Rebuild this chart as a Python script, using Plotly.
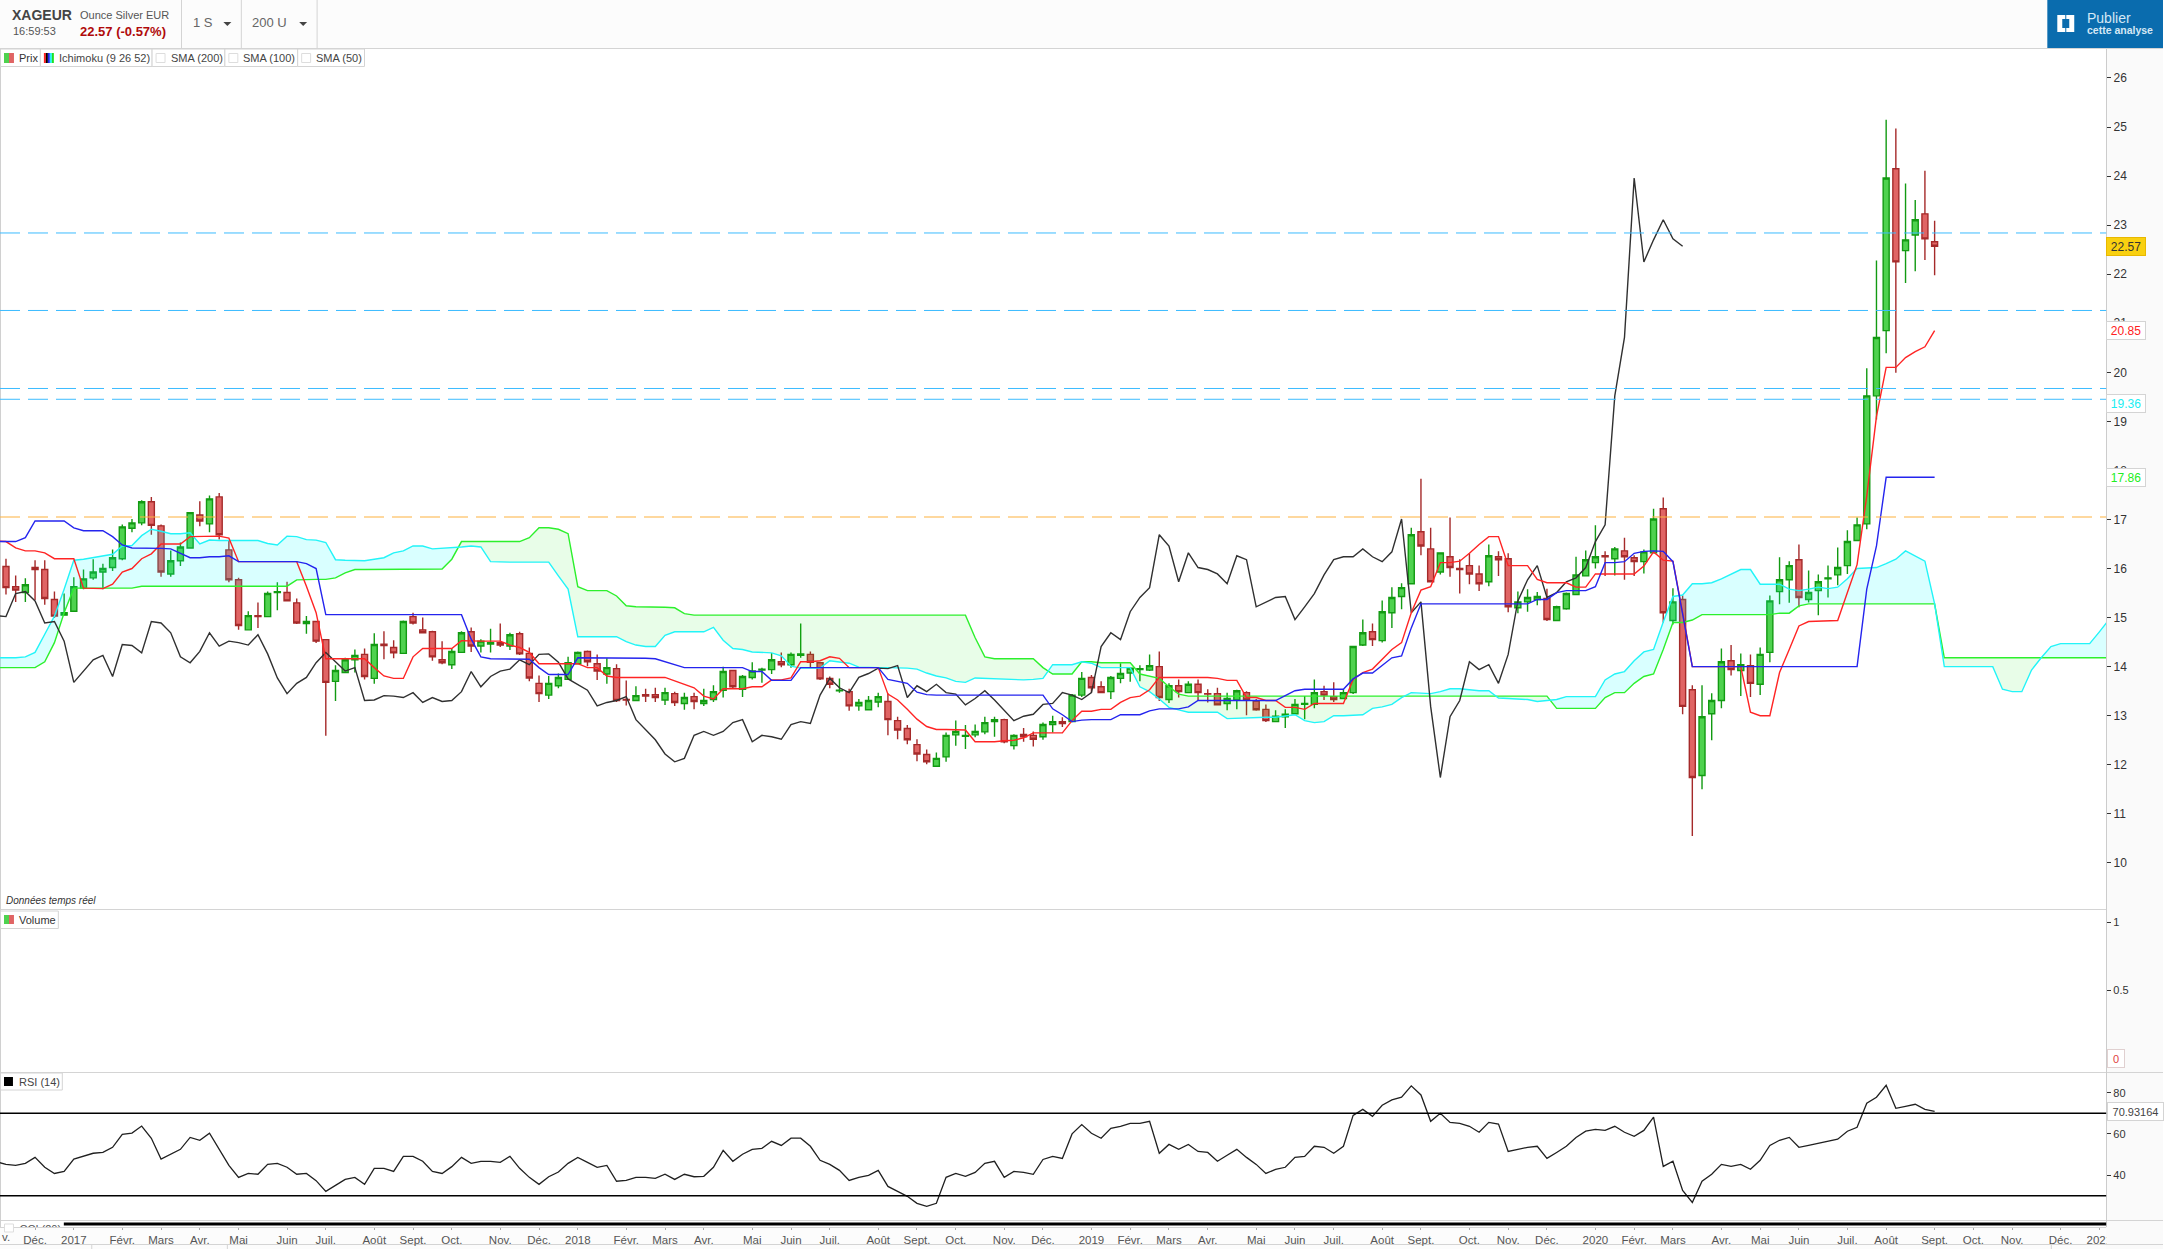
#!/usr/bin/env python3
'''
plot.py - XAGEUR weekly chart with Ichimoku cloud and RSI
'''

import plotly.graph_objects as go

WIDTH = 2169
HEIGHT = 1249

# weekly candles, one per week index 0..199
opens = [16.04,15.63,15.51,16.02,15.98,15.37,15.05,15.13,15.60,15.81,
         15.93,16.02,16.20,16.82,16.93,17.36,16.87,15.89,16.16,16.42,
         17.09,16.91,17.46,16.38,15.77,14.75,15.04,15.02,15.51,15.51,
         15.30,14.88,14.92,14.55,13.70,13.88,14.14,14.25,13.76,14.46,
         14.39,14.27,15.02,14.75,14.71,14.14,14.04,14.29,14.71,14.42,
         14.46,14.49,14.42,14.67,14.27,13.66,13.42,13.61,13.74,14.06,
         14.31,14.06,13.85,13.96,13.33,13.31,13.43,13.43,13.32,13.45,
         13.25,13.39,13.25,13.33,13.52,13.92,13.54,13.78,13.93,13.94,
         14.10,14.04,14.23,14.25,14.08,13.76,13.51,13.49,13.20,13.12,
         13.28,13.29,12.90,12.74,12.41,12.21,11.97,12.16,12.61,12.58,
         12.61,12.67,12.88,12.92,12.39,12.62,12.60,12.57,12.82,12.88,
         12.88,13.42,13.78,13.59,13.49,13.76,13.87,13.94,13.93,14.00,
         13.33,13.61,13.47,13.64,13.45,13.45,13.25,13.32,13.47,13.30,
         13.13,12.88,12.98,13.04,13.23,13.23,13.49,13.39,13.35,13.47,
         14.44,14.71,14.53,15.10,15.43,15.69,16.75,16.40,15.93,16.24,
         16.00,16.06,15.89,15.73,16.24,16.20,15.20,15.32,15.37,15.39,
         14.94,15.18,15.47,15.85,16.12,16.26,16.20,16.36,16.22,16.14,
         16.32,17.22,14.94,15.37,13.53,11.78,13.04,13.31,14.12,13.92,
         14.02,13.64,14.29,15.53,15.77,16.18,15.37,15.55,15.79,15.87,
         16.06,16.57,16.91,19.52,20.85,24.15,22.48,22.80,23.23,22.66]
highs = [16.20,15.86,15.80,16.17,16.17,15.53,15.49,15.82,15.98,16.19,
         16.10,16.39,16.90,17.01,17.39,17.46,16.90,16.37,16.53,17.14,
         17.37,17.49,17.54,16.56,15.81,15.13,15.31,15.53,15.72,15.73,
         15.39,15.03,14.92,14.55,14.03,14.18,14.35,14.37,14.68,14.72,
         14.54,14.94,15.10,15.00,14.73,14.52,14.37,14.72,14.80,14.56,
         14.77,14.88,14.69,14.71,14.39,13.82,13.81,13.86,14.20,14.31,
         14.33,14.25,14.17,14.05,13.72,13.60,13.55,13.57,13.57,13.49,
         13.47,13.47,13.55,13.62,14.00,13.92,13.83,14.09,13.98,14.28,
         14.29,14.29,14.88,14.31,14.08,13.80,13.76,13.55,13.34,13.40,
         13.47,13.46,12.98,12.81,12.52,12.31,12.25,12.66,12.90,12.81,
         12.82,12.98,12.98,12.94,12.62,12.75,12.68,12.86,13.00,12.97,
         13.44,13.89,13.83,13.70,13.81,14.07,13.99,14.03,14.25,14.31,
         13.66,13.74,13.70,13.74,13.54,13.57,13.47,13.53,13.50,13.34,
         13.23,13.11,13.13,13.34,13.40,13.74,13.61,13.68,13.54,14.41,
         14.96,14.88,15.35,15.62,15.70,16.83,17.83,16.83,16.32,17.04,
         16.19,16.31,16.06,16.49,16.35,16.31,15.53,15.58,15.52,15.59,
         15.24,15.51,16.24,16.37,16.88,16.35,16.44,16.63,16.27,16.39,
         17.22,17.45,15.60,15.45,13.62,13.62,13.46,14.37,14.44,14.27,
         14.25,14.39,15.45,16.23,16.15,16.49,15.96,15.88,16.06,16.43,
         16.78,17.04,20.08,22.28,25.15,24.97,23.85,23.51,24.11,23.09]
lows = [15.47,15.32,15.32,15.36,15.26,14.99,15.05,15.13,15.58,15.77,
        15.58,15.95,16.17,16.74,16.88,16.69,15.83,15.83,16.05,16.42,
        16.86,16.74,16.59,15.72,14.75,14.75,14.79,15.02,15.15,15.34,
        14.87,14.67,14.48,12.59,13.30,13.88,13.88,13.74,13.65,14.15,
        14.17,14.27,14.86,14.69,14.12,14.05,13.95,14.29,14.30,14.29,
        14.29,14.40,14.34,14.24,13.70,13.28,13.34,13.56,13.74,14.06,
        14.01,13.73,13.65,13.28,13.21,13.31,13.28,13.28,13.22,13.20,
        13.12,13.13,13.20,13.28,13.37,13.56,13.38,13.74,13.67,13.85,
        13.99,13.98,14.18,13.98,13.73,13.56,13.47,13.10,13.10,13.12,
        13.17,12.60,12.52,12.42,12.07,12.01,11.97,12.06,12.39,12.32,
        12.56,12.62,12.57,12.44,12.31,12.47,12.37,12.51,12.66,12.77,
        12.88,13.38,13.47,13.47,13.34,13.66,13.69,13.70,13.91,13.30,
        13.26,13.37,13.47,13.31,13.27,13.22,13.11,13.13,13.01,13.10,
        12.87,12.88,12.75,13.04,12.93,13.15,13.32,13.28,13.34,13.44,
        14.42,14.42,14.49,14.79,15.17,15.69,16.27,15.73,15.88,15.83,
        15.49,15.68,15.54,15.64,15.85,15.11,15.09,15.12,15.25,14.93,
        14.94,15.16,15.47,15.84,16.00,15.85,15.86,15.77,15.85,15.90,
        16.32,14.90,14.86,13.03,10.55,11.50,12.50,13.15,13.82,13.40,
        13.38,13.42,14.09,15.27,15.30,15.21,15.31,15.05,15.41,15.66,
        15.89,16.57,16.80,19.04,20.39,19.99,21.82,22.06,22.29,21.98]
closes = [15.61,15.56,15.67,15.98,15.39,15.03,15.10,15.63,15.79,15.93,
          16.00,16.22,16.85,16.93,17.36,16.88,15.93,16.16,16.44,17.14,
          16.97,17.42,16.69,15.77,14.84,15.04,15.02,15.49,15.53,15.34,
          14.89,14.92,14.52,13.68,13.92,14.14,14.23,13.80,14.45,14.43,
          14.28,14.92,14.89,14.69,14.20,14.08,14.31,14.69,14.42,14.52,
          14.49,14.44,14.65,14.26,13.77,13.45,13.66,13.78,14.08,14.29,
          14.10,13.91,13.98,13.31,13.32,13.41,13.40,13.37,13.47,13.27,
          13.37,13.29,13.31,13.49,13.90,13.59,13.80,13.91,13.95,14.14,
          14.04,14.25,14.26,14.09,13.75,13.64,13.52,13.20,13.27,13.31,
          13.39,12.92,12.71,12.51,12.22,12.06,12.13,12.60,12.68,12.60,
          12.68,12.86,12.92,12.47,12.60,12.57,12.52,12.82,12.88,12.84,
          13.42,13.76,13.57,13.47,13.78,13.86,13.97,13.96,14.02,13.37,
          13.61,13.49,13.64,13.47,13.44,13.22,13.35,13.51,13.32,13.12,
          12.90,12.99,13.03,13.23,13.25,13.47,13.42,13.33,13.47,14.41,
          14.69,14.55,15.12,15.41,15.61,16.69,16.46,15.73,16.32,16.02,
          15.98,15.89,15.69,16.26,16.18,15.22,15.32,15.41,15.43,14.96,
          15.22,15.49,15.87,16.18,16.24,16.24,16.40,16.24,16.14,16.34,
          17.01,15.10,15.32,13.19,11.74,12.98,13.31,14.10,13.94,14.04,
          13.66,14.25,15.34,15.77,16.06,15.41,15.51,15.73,15.81,16.02,
          16.55,16.89,19.52,20.71,23.96,22.25,22.70,23.11,22.72,22.57]
volumes = [0] * 200

# ichimoku lines, first value is the week before the first candle
tenkan = ([16.56,16.55,16.42,16.36,16.36,16.32] + [16.20]*3 + [15.60,15.59,15.59,15.68,15.93,16.00,16.20,16.30]
          + [16.50]*3 + [16.65,16.65,16.66,16.66,16.62] + [16.14]*7 + [15.64,15.10] + [14.16]*5
          + [13.98,13.81,13.76,13.76,14.20] + [14.37]*4 + [14.53] + [14.52]*4 + [14.44,14.39,14.29]
          + [14.06]*5 + [13.98,13.98,13.81] + [13.78]*6 + [13.71,13.64,13.57,13.40,13.34] + [13.55]*3
          + [13.59,13.59,13.73,13.73,13.77,14.10,14.10,14.12,14.20,14.17] + [13.98]*4
          + [13.44,13.32,13.13,12.93,12.78] + [12.72]*3 + [12.71] + [12.47]*3 + [12.49,12.50,12.55]
          + [12.65]*4 + [12.90,13.09,13.09,13.13,13.13,13.27,13.37,13.40,13.53] + [13.78]*6
          + [13.76,13.72,13.72,13.37,13.37,13.31,13.31,13.17,13.17,13.13] + [13.25]*4
          + [13.74,13.88,13.95,14.15,14.35,14.49,15.10,15.56,15.63,16.12,16.12,16.15,16.31,16.49,16.65,16.65]
          + [16.06]*3 + [15.78] + [15.71]*3 + [15.62,15.62] + [15.89]*5 + [16.05,16.34,16.17,16.15,15.10]
          + [14.00]*6 + [13.07,13.00,13.00,13.88,14.35,14.83,14.92,14.93,14.93,14.94,15.51,16.08,17.48,19.10,
                         20.10,20.10,20.30,20.42,20.52,20.85])
kijun = ([16.55]*3 + [16.63] + [16.97]*4 + [16.83] + [16.77]*3 + [16.65,16.48,16.42,16.42,16.41,16.41,16.40,16.31]
         + [16.22]*2 + [16.24]*2 + [16.26] + [16.14]*7 + [16.10,16.00] + [15.06]*15 + [14.56,14.20] + [14.16]*4
         + [14.15,13.98] + [13.84]*3 + [14.18]*5 + [14.17]*3 + [14.16,14.10,14.04] + [13.98]*7 + [13.90]*2
         + [13.72]*3 + [13.98]*9 + [13.74,13.70,13.66,13.48,13.43] + [13.42]*12 + [13.14,13.02,12.88,12.91]
         + [12.92]*3 + [13.02]*3 + [13.10] + [13.14]*3 + [13.18] + [13.31]*9 + [13.41,13.51] + [13.54]*5
         + [13.75] + [13.87]*2 + [14.03,14.18,14.22,14.79] + [15.28]*12 + [15.37]*2 + [15.51] + [15.55]*3
         + [15.63] + [16.12]*2 + [16.14,16.31,16.35,16.36,16.35,16.14,15.10] + [14.00]*18 + [15.58,16.46]
         + [17.86]*6)
senkou_a = ([14.18,14.18,14.18,14.20,14.29,14.66,15.03,15.58,16.17,16.19,16.22,16.25,16.29,16.46,16.47,16.67,
             16.80,16.76,16.71,16.71,16.73,16.50,16.58] + [16.57]*5 + [16.51,16.48,16.66,16.65,16.59,16.58,16.53,
             16.18,16.17,16.16,16.16,16.19,16.22,16.32,16.36,16.46,16.46,16.40,16.41,16.42,16.44,16.46,16.44,16.14]
            + [16.13]*6 + [15.85,15.58] + [14.61]*5 + [14.51,14.44,14.41,14.41,14.64] + [14.71]*4
            + [14.80,14.54,14.37,14.35,14.30,14.29,14.28,14.22,14.01] + [13.97]*3
            + [14.12,14.10,14.07,13.99] + [13.98]*4 + [13.97,13.95,13.87,13.81,13.77,13.70,13.68,13.77,13.76,13.76,
               13.75,13.74,13.73,13.74,13.76] + [14.04]*3 + [14.10,14.07] + [13.98]*4
            + [13.59,13.49,13.34,13.17,13.12] + [13.07]*4 + [12.94,12.95,12.96] + [12.97]*3
            + [13.00,13.02,12.90,12.86,12.88,13.00,13.00,13.01,13.02,13.15,13.18,13.23,13.37,13.47,13.46,13.45,
               13.49,13.55,13.55,13.53,13.51,13.51,13.36,13.35,13.34,13.33,13.29,13.31,13.33] + [13.39]*4
            + [13.73,13.85,13.90,14.12,14.30,14.35,14.91,15.43,15.46,15.69,15.69,15.71,15.79,15.89,15.98,15.98]
            + [15.68]*3 + [15.58,15.55,15.58,15.62,15.59,15.62,15.79,16.00,16.01,16.02,16.10,16.19,16.36,16.26,
                           16.15,15.28] + [14.00]*6 + [13.54,13.49,13.49,13.93,14.18,14.41] + [14.47]*4 + [14.71,14.96])
senkou_b = ([13.98]*5 + [14.10,14.49,15.10] + [15.60]*7 + [15.64]*16 + [15.77] + [15.78]*3 + [15.81,15.91]
            + [15.98]*9 + [15.99,16.19] + [16.55]*7 + [16.63,16.83,16.83,16.80,16.71,15.63] + [15.55]*3
            + [15.44,15.24] + [15.22]*3 + [15.21,15.20,15.08] + [15.05]*29 + [14.59,14.20] + [14.16]*5
            + [13.98] + [13.85]*3 + [14.10]*2 + [14.08]*4 + [13.85,13.80,13.76,13.59,13.44] + [13.40]*38
            + [13.15]*5 + [13.37,13.47,13.47,13.66,13.80,13.85,14.35,14.90,14.90,14.95] + [15.06]*8
            + [15.09]*2 + [15.24] + [15.28]*14 + [14.18]*18)

rsi = [46.5,45.2,44.7,45.7,48.6,43.8,40.8,41.8,47.8,49.3,50.6,51.0,53.5,59.8,60.4,63.8,57.9,47.8,50.1,52.5,58.3,
       56.9,60.3,52.5,44.7,38.9,40.8,40.4,45.2,45.7,43.8,40.4,40.8,37.3,32.1,35.0,37.9,38.9,35.5,43.3,43.3,
       41.8,49.1,49.1,46.7,41.8,40.8,44.1,48.6,45.7,46.7,46.7,46.2,49.1,43.3,38.9,35.5,39.2,41.5,45.7,48.6,
       46.2,43.8,44.7,37.0,37.4,38.9,38.9,38.4,40.4,37.9,40.4,39.2,39.4,43.8,52.0,46.7,50.1,52.5,53.0,56.4,
       54.4,57.9,57.9,54.0,47.2,45.2,42.3,37.4,38.9,39.9,42.3,34.5,32.1,29.7,26.3,24.8,26.3,38.9,40.8,39.4,
       41.3,45.7,46.7,38.9,41.8,41.3,40.4,47.6,49.1,48.1,60.0,64.5,60.3,57.9,62.7,63.7,65.1,65.1,66.1,50.6,
       54.9,52.5,54.9,51.5,51.0,46.7,49.6,52.5,48.6,45.2,40.8,42.8,43.8,48.6,49.1,54.0,53.5,50.6,54.0,69.0,
       71.9,68.5,73.9,76.5,77.8,83.3,78.9,66.1,70.0,65.6,65.1,63.7,60.8,65.6,64.8,51.5,52.5,53.5,54.0,48.1,
       51.0,54.0,58.3,61.3,62.2,61.7,63.7,60.8,58.8,61.7,68.1,44.2,46.7,32.6,26.7,37.0,40.4,45.2,44.2,45.2,
       42.8,47.2,54.4,56.9,58.3,53.5,54.4,55.4,56.4,57.4,61.3,63.2,74.9,77.8,83.6,72.4,73.4,74.4,71.9,70.93]

blue_levels = [22.84, 21.26, 19.67, 19.45]
orange_levels = [17.05]
rsi_bands = [70, 30]

tick_weeks = [3,7,12,16,20,24,29,33,38,42,46,51,55,59,64,68,72,77,81,85,90,94,98,103,107,112,116,120,124,129,133,
              137,142,146,151,155,159,164,168,172,177,181,185,190,194,199,203,207,212,216]
tick_names = ['Déc.','2017','Févr.','Mars','Avr.','Mai','Juin','Juil.','Août','Sept.','Oct.','Nov.','Déc.','2018',
              'Févr.','Mars','Avr.','Mai','Juin','Juil.','Août','Sept.','Oct.','Nov.','Déc.','2019','Févr.','Mars',
              'Avr.','Mai','Juin','Juil.','Août','Sept.','Oct.','Nov.','Déc.','2020','Févr.','Mars','Avr.','Mai',
              'Juin','Juil.','Août','Sept.','Oct.','Nov.','Déc.','2021']

GREEN_FILL = '#4fd24f'
GREEN_EDGE = '#129a12'
RED_FILL = '#e06464'
RED_EDGE = '#a52a2a'
FONT = 'Liberation Sans'


def px(x):
    return x / WIDTH


def py(y):
    return 1 - y / HEIGHT


def rect(x0, y0, x1, y1, fill='rgba(0,0,0,0)', line='#d4d4d4', width=1, layer='below'):
    return dict(type='rect', xref='paper', yref='paper', x0=px(x0), x1=px(x1), y0=py(y0), y1=py(y1),
                fillcolor=fill, line=dict(color=line, width=width), layer=layer)


def seg(x0, y0, x1, y1, color='#d4d4d4', width=1, layer='below'):
    return dict(type='line', xref='paper', yref='paper', x0=px(x0), x1=px(x1), y0=py(y0), y1=py(y1),
                line=dict(color=color, width=width), layer=layer)


def poly(points, fill, layer='above'):
    path = 'M ' + ' L '.join('%.5f,%.5f' % (px(a), py(b)) for a, b in points) + ' Z'
    return dict(type='path', xref='paper', yref='paper', path=path, fillcolor=fill,
                line=dict(width=0), layer=layer)


def note(x, y, text, size=11, color='#444444', bold=False, italic=False, anchor='left'):
    if bold:
        text = '<b>%s</b>' % text
    if italic:
        text = '<i>%s</i>' % text
    return dict(xref='paper', yref='paper', x=px(x), y=py(y), text=text, showarrow=False, xanchor=anchor,
                yanchor='middle', font=dict(family=FONT, size=size, color=color), borderpad=0)


def value_box(value, text, color, bg='#ffffff', border='#d4d4d4'):
    return dict(xref='paper', yref='y', x=px(2112), y=value, text=text, showarrow=False, xanchor='left',
                yanchor='middle', width=36, height=15, align='center', bgcolor=bg, bordercolor=border,
                borderwidth=1, font=dict(family=FONT, size=12, color=color))


def cloud_traces(a, b, first_week):
    # one filled polygon per stretch where the same line stays on top
    traces = []
    n = len(a)
    start = 0
    start_cross = None
    for i in range(1, n + 1):
        flip = i < n and (a[i] >= b[i]) != (a[start] >= b[start])
        if not flip and i < n:
            continue
        xs = [first_week + j for j in range(start, i)]
        up = a[start:i]
        down = b[start:i]
        if start_cross:
            xs = [start_cross[0]] + xs
            up = [start_cross[1]] + up
            down = [start_cross[1]] + down
        start_cross = None
        if flip:
            d0 = a[i-1] - b[i-1]
            d1 = a[i] - b[i]
            t = d0 / (d0 - d1)
            cross_x = first_week + i - 1 + t
            cross_y = a[i-1] + (a[i] - a[i-1]) * t
            xs = xs + [cross_x]
            up = up + [cross_y]
            down = down + [cross_y]
            start_cross = (cross_x, cross_y)
        color = 'rgba(0,255,255,0.15)' if a[start] >= b[start] else 'rgba(0,230,0,0.09)'
        traces.append(go.Scatter(x=xs + xs[::-1], y=up + down[::-1], mode='none', fill='toself',
                                 fillcolor=color, hoverinfo='skip', showlegend=False))
        start = i
    return traces


weeks = list(range(len(closes)))
line_weeks = list(range(-1, len(closes)))

data = cloud_traces(senkou_a, senkou_b, -1)

data.append(go.Candlestick(
    x=weeks, open=opens, high=highs, low=lows, close=closes,
    increasing=dict(line=dict(color=GREEN_EDGE, width=1.4), fillcolor=GREEN_FILL),
    decreasing=dict(line=dict(color=RED_EDGE, width=1.4), fillcolor=RED_FILL),
    whiskerwidth=0, showlegend=False, hoverinfo='skip'
))

cloud_weeks = list(range(-1, len(senkou_a) - 1))
data.append(go.Scatter(x=cloud_weeks, y=senkou_b, mode='lines', line=dict(color='#2cf02c', width=1.4),
                       showlegend=False))
data.append(go.Scatter(x=cloud_weeks, y=senkou_a, mode='lines', line=dict(color='#22f4f8', width=1.4),
                       showlegend=False))
# lagging line is the close moved back 26 weeks
data.append(go.Scatter(x=line_weeks, y=closes[25:], mode='lines', line=dict(color='#303030', width=1.4),
                       showlegend=False))
data.append(go.Scatter(x=line_weeks, y=tenkan, mode='lines', line=dict(color='#ff2424', width=1.4),
                       showlegend=False))
data.append(go.Scatter(x=line_weeks, y=kijun, mode='lines', line=dict(color='#2424ee', width=1.4),
                       showlegend=False))

data.append(go.Bar(x=weeks, y=volumes, yaxis='y2', marker=dict(color=GREEN_FILL, line=dict(width=0)),
                   showlegend=False))

data.append(go.Scatter(x=line_weeks, y=rsi, yaxis='y3', mode='lines', line=dict(color='#202020', width=1.3),
                       showlegend=False))
# indicator below the RSI pane, its legend is cut by the pane edge
data.append(go.Scatter(x=[1.4], y=[13.0], yaxis='y3', mode='text', text=['CCI (20)'], cliponaxis=True,
                       textposition='middle right', textfont=dict(family=FONT, size=11, color='#555555'),
                       showlegend=False))

shapes = [
    rect(2112, 49, WIDTH, HEIGHT, fill='#fafafa', line='rgba(0,0,0,0)', width=0),
    rect(0, 0, WIDTH, 48, fill='#fcfcfc', line='rgba(0,0,0,0)', width=0),
    rect(0, 1227, 2112, HEIGHT, fill='#fcfcfc', line='rgba(0,0,0,0)', width=0),
    seg(0, 48.5, WIDTH, 48.5),
    seg(182, 0, 182, 48), seg(242, 0, 242, 48), seg(318, 0, 318, 48),
    seg(0, 909.5, 2112, 909.5), seg(0, 1072.5, 2169, 1072.5), seg(0, 1220.5, 2169, 1220.5),
    seg(0, 1227.5, 2112, 1227.5), seg(0, 1244.5, WIDTH, 1244.5),
    seg(0.5, 49, 0.5, 1227, color='#d0d0d0'),
    seg(92, 1245, 92, HEIGHT), seg(228, 1245, 228, HEIGHT), seg(2057, 1245, 2057, HEIGHT),
    seg(64, 1224, 2112, 1224, color='#000000', width=3, layer='above'),
    rect(2112.5, 1227, WIDTH, 1244, fill='#fafafa', line='rgba(0,0,0,0)', width=0, layer='above'),
    rect(2053, 0, WIDTH, 48, fill='#0a6cae', line='rgba(0,0,0,0)', width=0, layer='above'),
    poly([(2063, 15), (2071, 15), (2071, 19), (2068, 19), (2068, 28), (2071, 28), (2071, 32), (2063, 32)], '#ffffff'),
    poly([(2072, 15), (2080, 15), (2080, 32), (2072, 32), (2072, 28), (2075, 28), (2075, 19), (2072, 19)], '#ffffff'),
    poly([(224, 22), (232, 22), (228, 26)], '#444444'),
    poly([(300, 22), (308, 22), (304, 26)], '#444444'),
    # legend chips
    rect(0.5, 49, 40.5, 66.5, fill='#ffffff', layer='above'),
    rect(40.5, 49, 152.5, 66.5, fill='#ffffff', layer='above'),
    rect(152.5, 49, 225.5, 66.5, fill='#ffffff', layer='above'),
    rect(225.5, 49, 298.5, 66.5, fill='#ffffff', layer='above'),
    rect(298.5, 49, 365.5, 66.5, fill='#ffffff', layer='above'),
    rect(4, 53, 9, 63, fill=GREEN_FILL, line='rgba(0,0,0,0)', width=0, layer='above'),
    rect(9, 53, 14, 63, fill=RED_FILL, line='rgba(0,0,0,0)', width=0, layer='above'),
    rect(44, 53, 46, 63, fill='#ff2020', line='rgba(0,0,0,0)', width=0, layer='above'),
    rect(46, 53, 48, 63, fill='#000000', line='rgba(0,0,0,0)', width=0, layer='above'),
    rect(48, 53, 50, 63, fill='#2020ee', line='rgba(0,0,0,0)', width=0, layer='above'),
    rect(50, 53, 52, 63, fill='#22f4f8', line='rgba(0,0,0,0)', width=0, layer='above'),
    rect(52, 53, 54, 63, fill='#20e020', line='rgba(0,0,0,0)', width=0, layer='above'),
    rect(156.5, 53.5, 165.5, 62.5, fill='#ffffff', line='#dddddd', layer='above'),
    rect(229.5, 53.5, 238.5, 62.5, fill='#ffffff', line='#dddddd', layer='above'),
    rect(302.5, 53.5, 311.5, 62.5, fill='#ffffff', line='#dddddd', layer='above'),
    rect(0.5, 911, 58.5, 928.5, fill='#ffffff', layer='above'),
    rect(4, 915, 9, 924, fill=GREEN_FILL, line='rgba(0,0,0,0)', width=0, layer='above'),
    rect(9, 915, 14, 924, fill=RED_FILL, line='rgba(0,0,0,0)', width=0, layer='above'),
    rect(0.5, 1073, 62.5, 1090, fill='#ffffff', layer='above'),
    rect(4, 1077, 13, 1086, fill='#000000', line='rgba(0,0,0,0)', width=0, layer='above'),
    rect(4.5, 1224, 13.5, 1232, fill='#ffffff', line='#dddddd', layer='below'),
]

for level in blue_levels:
    shapes.append(dict(type='line', xref='paper', yref='y', x0=0, x1=px(2112), y0=level, y1=level, layer='above',
                       line=dict(color='#3cbcff', width=1, dash='20px,8px')))
for level in orange_levels:
    shapes.append(dict(type='line', xref='paper', yref='y', x0=0, x1=px(2112), y0=level, y1=level, layer='above',
                       line=dict(color='#fdb23f', width=1.2, dash='20px,8px')))
for level in rsi_bands:
    shapes.append(dict(type='line', xref='paper', yref='y3', x0=0, x1=px(2112), y0=level, y1=level, layer='above',
                       line=dict(color='#000000', width=1.4)))

annotations = [
    note(11, 15, 'XAGEUR', size=14, color='#444444', bold=True),
    note(12, 31, '16:59:53', size=11, color='#555555'),
    note(79, 15, 'Ounce Silver EUR', size=11, color='#555555'),
    note(79, 31, '22.57 (-0.57%)', size=13, color='#b00a0a', bold=True),
    note(193, 23, '1 S', size=13, color='#666666'),
    note(252, 23, '200 U', size=13, color='#666666'),
    note(2092, 18, 'Publier', size=14, color='#d5e8f5'),
    note(2092, 30, 'cette analyse', size=10.5, color='#d5e8f5', bold=True),
    note(18.5, 57.5, 'Prix', color='#333333'),
    note(58, 57.5, 'Ichimoku (9 26 52)'),
    note(170, 57.5, 'SMA (200)'),
    note(243, 57.5, 'SMA (100)'),
    note(316, 57.5, 'SMA (50)'),
    note(5, 900, 'Données temps réel', size=10, color='#333333', italic=True),
    note(18, 919.5, 'Volume', color='#333333'),
    note(18, 1081.5, 'RSI (14)'),
    note(1, 1236.5, 'v.', size=11.5, color='#555555'),
    value_box(22.57, '22.57', '#333333', bg='#f9d010', border='#e8b800'),
    value_box(20.85, '20.85', '#ff2020'),
    value_box(19.36, '19.36', '#18eef2'),
    value_box(17.86, '17.86', '#22ee22'),
    dict(xref='paper', yref='y2', x=px(2113), y=0, text='0', showarrow=False, xanchor='left', yanchor='middle',
         width=14, height=15, bgcolor='#ffffff', bordercolor='#e0d0d0', borderwidth=1,
         font=dict(family=FONT, size=11, color='#e04040')),
    dict(xref='paper', yref='y3', x=px(2113), y=70.93164, text='70.93164', showarrow=False, xanchor='left',
         yanchor='middle', width=53, height=15, bgcolor='#ffffff', bordercolor='#d4d4d4', borderwidth=1,
         font=dict(family=FONT, size=11, color='#444444')),
]

layout = go.Layout(
    width=WIDTH,
    height=HEIGHT,
    margin=dict(l=0, r=0, t=0, b=0),
    paper_bgcolor='#ffffff',
    plot_bgcolor='rgba(0,0,0,0)',
    boxgap=0.38,
    boxgroupgap=0,
    bargap=0.3,
    showlegend=False,
    font=dict(family=FONT, size=12, color='#333333'),
    xaxis=dict(
        domain=[0, px(2112)],
        anchor='y3',
        range=[-0.617, 216.7],
        tickmode='array',
        tickvals=tick_weeks,
        ticktext=tick_names,
        tickangle=0,
        ticks='outside',
        ticklen=2,
        tickcolor='#aaaaaa',
        tickfont=dict(family=FONT, size=11.5, color='#555555'),
        showgrid=False,
        zeroline=False,
        showline=False,
        rangeslider=dict(visible=False),
    ),
    yaxis=dict(
        domain=[py(909), py(49)],
        anchor='x',
        side='right',
        range=[9.06, 26.59],
        tickmode='array',
        tickvals=list(range(10, 27)),
        ticks='outside',
        ticklen=4,
        tickcolor='#333333',
        tickfont=dict(family=FONT, size=12, color='#333333'),
        showgrid=False,
        zeroline=False,
        showline=True,
        linecolor='#cccccc',
        linewidth=1,
    ),
    yaxis2=dict(
        domain=[py(1072), py(909)],
        anchor='x',
        side='right',
        range=[-0.095, 1.095],
        tickmode='array',
        tickvals=[0.5, 1],
        ticktext=['0.5', '1'],
        ticks='outside',
        ticklen=4,
        tickcolor='#333333',
        tickfont=dict(family=FONT, size=11, color='#333333'),
        showgrid=False,
        zeroline=False,
        showline=True,
        linecolor='#cccccc',
        linewidth=1,
    ),
    yaxis3=dict(
        domain=[py(1227), py(1072)],
        anchor='x',
        side='right',
        range=[14.8, 90.05],
        tickmode='array',
        tickvals=[40, 60, 80],
        ticks='outside',
        ticklen=4,
        tickcolor='#333333',
        tickfont=dict(family=FONT, size=11, color='#333333'),
        showgrid=False,
        zeroline=False,
        showline=True,
        linecolor='#cccccc',
        linewidth=1,
    ),
    shapes=shapes,
    annotations=annotations,
)

fig = go.Figure(data=data, layout=layout)
# the page default margin would push the figure out of the window
fig.write_html('out.html', config={'displayModeBar': False},
               post_script="document.body.style.margin='0';document.body.style.overflow='hidden';")
